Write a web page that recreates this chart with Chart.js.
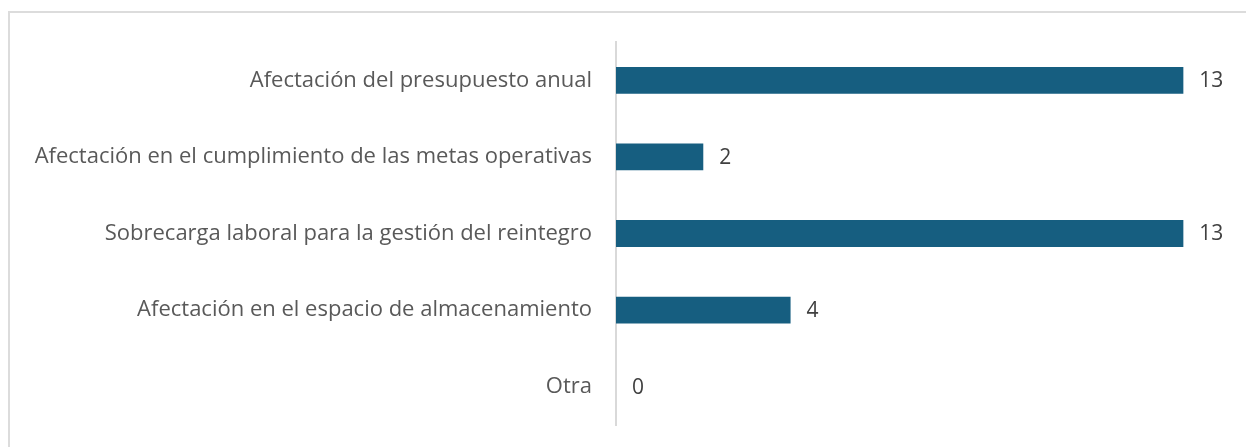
<!DOCTYPE html>
<html>
<head>
<meta charset="utf-8">
<script src="https://cdn.jsdelivr.net/npm/chart.js@4"></script>
<style>
  html, body { margin: 0; padding: 0; background: #fff; }
  #wrap { position: relative; width: 1246px; height: 447px; overflow: hidden; }
  #frame { position: absolute; left: 8px; top: 11px; width: 1300px; height: 500px;
           border-top: 2px solid #dcdcdc; border-left: 2px solid #dcdcdc; }
  canvas { position: absolute; left: 0; top: 0; }
</style>
</head>
<body>
<div id="wrap">
  <div id="frame"></div>
  <canvas id="chart" width="1246" height="447"></canvas>
</div>
<script>
const categories = [
  "Afectación del presupuesto anual",
  "Afectación en el cumplimiento de las metas operativas",
  "Sobrecarga laboral para la gestión del reintegro",
  "Afectación en el espacio de almacenamiento",
  "Otra"
];
const values = [13, 2, 13, 4, 0];

const FONT = "'Open Sans', sans-serif";

// writes the value just to the right of each bar
const valueLabels = {
  id: "valueLabels",
  afterDatasetsDraw(chart) {
    const ctx = chart.ctx;
    const meta = chart.getDatasetMeta(0);
    ctx.save();
    ctx.font = "21px " + FONT;
    ctx.fillStyle = "#404040";
    ctx.textAlign = "left";
    ctx.textBaseline = "middle";
    meta.data.forEach((bar, i) => {
      ctx.fillText(String(values[i]), bar.x + 16, bar.y + 1);
    });
    ctx.restore();
  }
};

new Chart(document.getElementById("chart").getContext("2d"), {
  type: "bar",
  data: {
    labels: categories,
    datasets: [{
      data: values,
      backgroundColor: "#165E80",
      borderWidth: 0,
      barPercentage: 0.7,
      categoryPercentage: 0.5
    }]
  },
  options: {
    indexAxis: "y",
    responsive: false,
    animation: false,
    layout: { padding: { top: 42, bottom: 22, right: 19, left: 0 } },
    plugins: { legend: { display: false }, tooltip: { enabled: false } },
    scales: {
      x: { display: false, min: 0, max: 14 },
      y: {
        grid: { display: false, drawTicks: false },
        border: { display: true, color: "#d9d9d9", width: 2 },
        ticks: { color: "#595959", padding: 24, font: { family: FONT, size: 22 } },
        afterFit: (scale) => {
          scale.width = 616;
          scale.paddingTop = 0;
          scale.paddingBottom = 0;
        }
      }
    }
  },
  plugins: [valueLabels]
});
</script>
</body>
</html>
